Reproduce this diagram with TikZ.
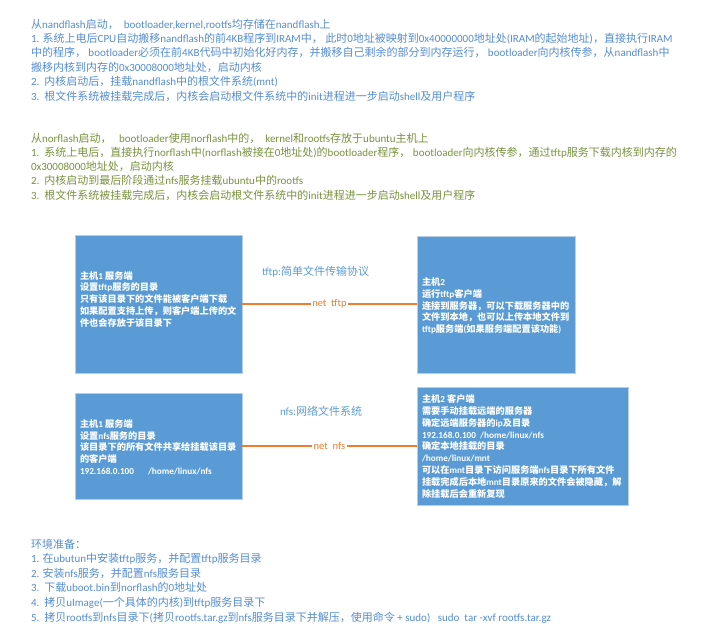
\documentclass[tikz,border=0pt]{standalone}
\usepackage{fontspec}
\setmainfont{Carlito}
\newfontfamily\cjkf{Noto Sans CJK SC}
\usetikzlibrary{shadows}
\XeTeXinterchartokenstate=1
\chardef\cjkcls=7
\newcount\cjkc
\def\setcjkrange#1#2{\cjkc=#1\relax\loop\XeTeXcharclass\cjkc=\cjkcls\relax\ifnum\cjkc<#2\relax\advance\cjkc by 1\relax\repeat}
\setcjkrange{"3000}{"303F}
\setcjkrange{"4E00}{"9FFF}
\setcjkrange{"FF00}{"FFEF}
\XeTeXinterchartoks 0 \cjkcls={\begingroup\cjkf}
\XeTeXinterchartoks 4095 \cjkcls={\begingroup\cjkf}
\XeTeXinterchartoks \cjkcls 0={\endgroup}
\XeTeXinterchartoks \cjkcls 4095={\endgroup}
\definecolor{tblue}{HTML}{548DD4}
\definecolor{tgreen}{HTML}{77933C}
\definecolor{boxfill}{HTML}{5B9BD5}
\definecolor{boxline}{HTML}{B9CDE4}
\definecolor{conn}{HTML}{ED7D31}
\definecolor{lblue}{HTML}{5B9BD5}
\begin{document}
\begin{tikzpicture}[x=1pt,y=-1pt,
  every node/.style={inner sep=0pt, outer sep=0pt},
  tline/.style={anchor=base west, font=\fontsize{11}{13}\selectfont},
  bline/.style={anchor=base west, font=\bfseries\fontsize{9.2}{11}\selectfont, text=white},
  hostbox/.style={draw=boxline, line width=0.8pt, fill=boxfill, anchor=north west,
    drop shadow={shadow xshift=1pt, shadow yshift=-1pt, opacity=0.2}},
  link/.style={draw=conn, line width=2pt},
  linklabel/.style={fill=white, inner xsep=1.5pt, inner ysep=1pt, text=conn, font=\fontsize{10.5}{12}\selectfont},
  protolabel/.style={anchor=base west, text=lblue, font=\fontsize{11}{13}\selectfont},
]
\useasboundingbox[fill=white] (0,0) rectangle (706,633);

% block 1
\foreach \t [count=\i from 0] in {
  {从nandflash启动，\ \ bootloader,kernel,rootfs均存储在nandflash上},
  {1. 系统上电后CPU自动搬移nandflash的前4KB程序到IRAM中，\ 此时0地址被映射到0x40000000地址处(IRAM的起始地址)，直接执行IRAM},
  {中的程序，\ bootloader必须在前4KB代码中初始化好内存，并搬移自己剩余的部分到内存运行，\ bootloader向内核传参，从nandflash中},
  {搬移内核到内存的0x30008000地址处，启动内核},
  {2.\ \ 内核启动后，挂载nandflash中的根文件系统(mnt)},
  {3.\ \ 根文件系统被挂载完成后，内核会启动根文件系统中的init进程进一步启动shell及用户程序}}
  \node[tline, text=tblue] (na\i) at (31,{28+14.4*\i}) {\t};

% block 2
\foreach \t [count=\i from 0] in {
  {从norflash启动，\ \ \ bootloader使用norflash中的，\ \ kernel和rootfs存放于ubuntu主机上},
  {1.\ \ 系统上电后，直接执行norflash中(norflash被接在0地址处)的bootloader程序，\ bootloader向内核传参，通过tftp服务下载内核到内存的},
  {0x30008000地址处，启动内核},
  {2.\ \ 内核启动到最后阶段通过nfs服务挂载ubuntu中的rootfs},
  {3.\ \ 根文件系统被挂载完成后，内核会启动根文件系统中的init进程进一步启动shell及用户程序}}
  \node[tline, text=tgreen] (no\i) at (31,{142+14.3*\i}) {\t};

% boxes
\node[hostbox, minimum width=167pt, minimum height=138pt] (s1) at (75,235) {};
\node[hostbox, minimum width=158pt, minimum height=137pt] (c1) at (417,236) {};
\node[hostbox, minimum width=167pt, minimum height=106pt] (s2) at (75,393) {};
\node[hostbox, minimum width=211pt, minimum height=118pt] (c2) at (417,387) {};

% connectors
\draw[link] (s1.east) -- node[linklabel] (l1) {net\ \ tftp} (s1.east -| c1.west);
\draw[link] (s2.east) -- node[linklabel] (l2) {net\ \ nfs} (s2.east -| c2.west);

\node[protolabel] (p1) at (262,275) {tftp:简单文件传输协议};
\node[protolabel] (p2) at (280,415) {nfs:网络文件系统};

% box texts
\foreach \t [count=\i from 0] in {
  {主机1 服务端},
  {设置tftp服务的目录},
  {只有该目录下的文件能被客户端下载},
  {如果配置支持上传，则客户端上传的文},
  {件也会存放于该目录下}}
  \node[bline] (s1t\i) at (80,{279+11.75*\i}) {\t};

\foreach \t [count=\i from 0] in {
  {主机2},
  {运行tftp客户端},
  {连接到服务器，可以下载服务器中的},
  {文件到本地，也可以上传本地文件到},
  {tftp服务端(如果服务端配置该功能)}}
  \node[bline] (c1t\i) at (422,{285.8+11.6*\i}) {\t};

\foreach \t [count=\i from 0] in {
  {主机1 服务端},
  {设置nfs服务的目录},
  {该目录下的所有文件共享给挂载该目录},
  {的客户端},
  {192.168.0.100\hspace{14pt}/home/linux/nfs}}
  \node[bline] (s2t\i) at (80,{427.5+11.7*\i}) {\t};

\foreach \t [count=\i from 0] in {
  {主机2 客户端},
  {需要手动挂载远端的服务器},
  {确定远端服务器的ip及目录},
  {192.168.0.100\ \ /home/linux/nfs},
  {确定本地挂载的目录},
  {/home/linux/mnt},
  {可以在mnt目录下访问服务端nfs目录下所有文件},
  {挂载完成后本地mnt目录原来的文件会被隐藏，解},
  {除挂载后会重新复现}}
  \node[bline] (c2t\i) at (422,{402.5+11.87*\i}) {\t};

% bottom block
\foreach \t [count=\i from 0] in {
  {环境准备：},
  {1. 在ubutun中安装tftp服务，并配置tftp服务目录},
  {2. 安装nfs服务，并配置nfs服务目录},
  {3.\ \ 下载uboot.bin到norflash的0地址处},
  {4.\ \ 拷贝uImage(一个具体的内核)到tftp服务目录下},
  {5.\ \ 拷贝rootfs到nfs目录下(拷贝rootfs.tar.gz到nfs服务目录下并解压，使用命令 + sudo)\ \ \ sudo\ \ tar -xvf rootfs.tar.gz}}
  \node[tline, text=tblue] (nb\i) at (31,{548+14.6*\i}) {\t};
\end{tikzpicture}
\end{document}
